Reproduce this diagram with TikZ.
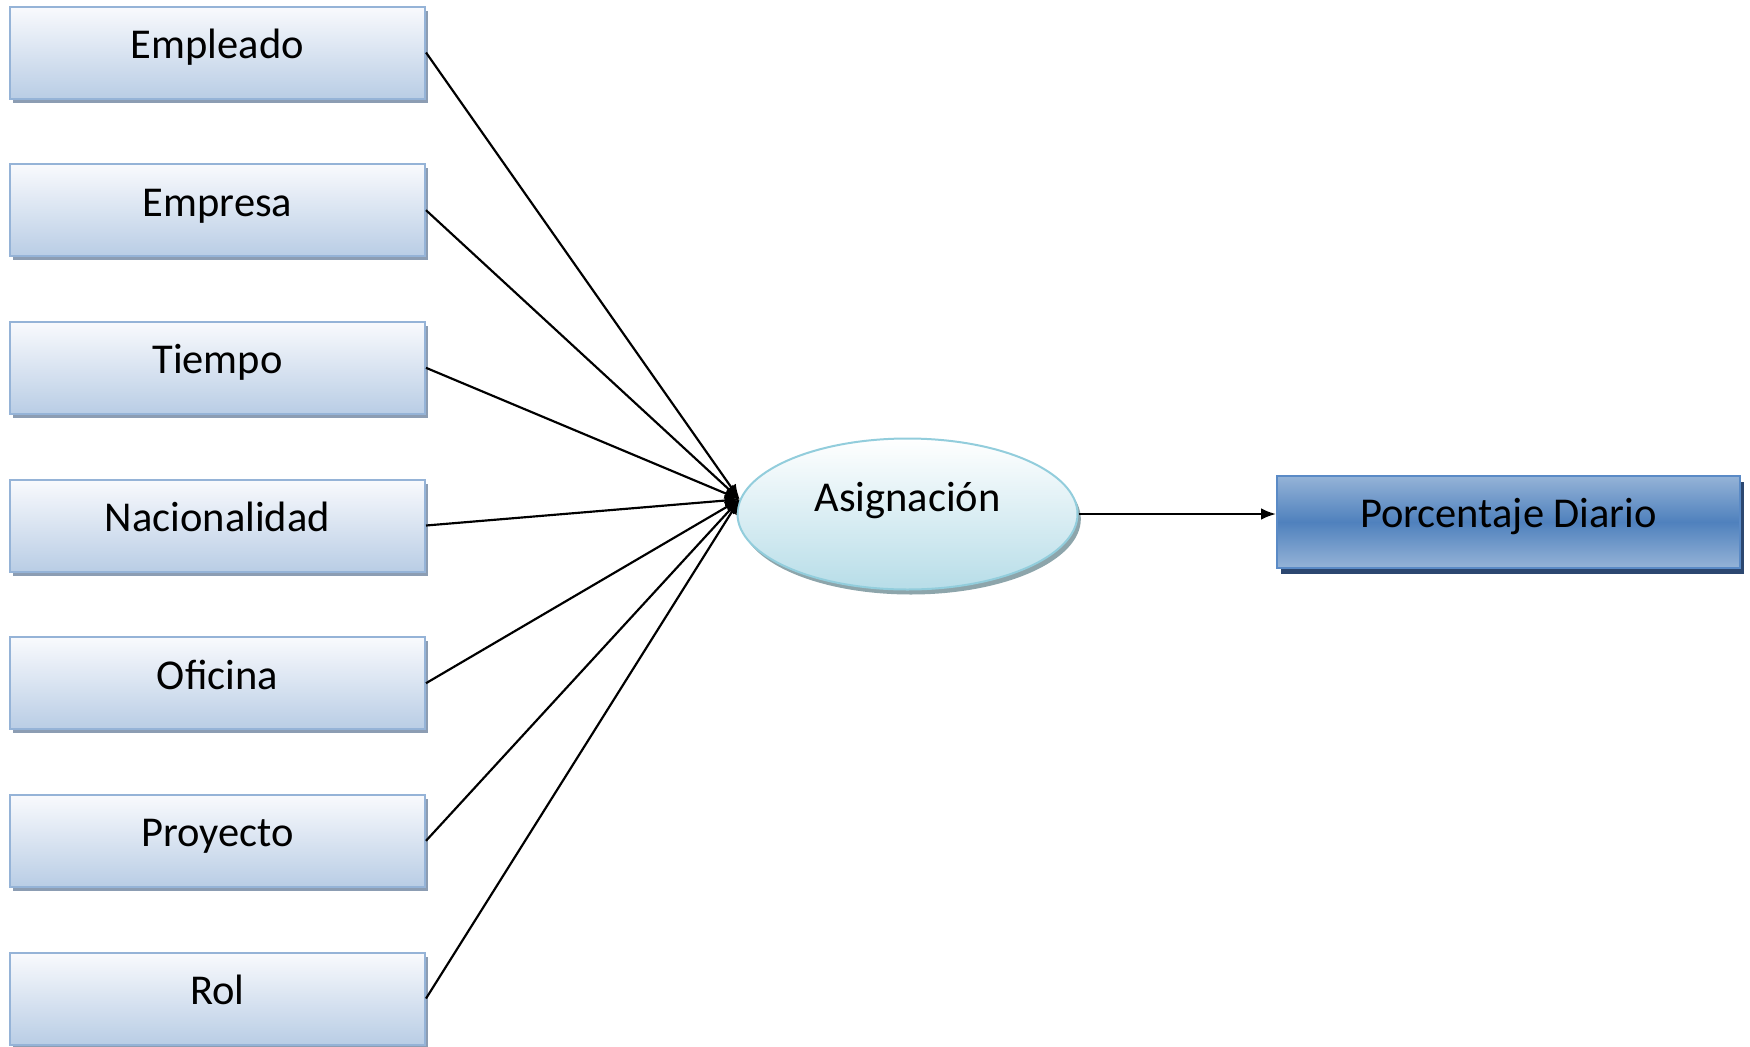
\documentclass[tikz,border=0pt]{standalone}
\usepackage{fontspec}
\setmainfont{Carlito}
\usetikzlibrary{arrows.meta,shadows,shapes.geometric}
\definecolor{boxtop}{HTML}{F9FAFD}
\definecolor{boxbot}{HTML}{B9CDE5}
\definecolor{boxline}{HTML}{95B3D7}
\definecolor{boxshadow}{HTML}{8C9DB3}
\definecolor{elltop}{HTML}{FFFFFF}
\definecolor{ellbot}{HTML}{B7DDE8}
\definecolor{ellline}{HTML}{92CDDC}
\definecolor{ellshadow}{HTML}{8DA5AB}
\definecolor{pdlight}{HTML}{95B3D7}
\definecolor{pddark}{HTML}{4F81BD}
\definecolor{pdline}{HTML}{5A8AC6}
\definecolor{pdshadow}{HTML}{2C4770}
\tikzset{
  dimbox/.style={rectangle, inner sep=0pt, minimum width=249pt, minimum height=55.2pt,
    top color=boxtop, bottom color=boxbot, draw=boxline, line width=1.2pt,
    drop shadow={shadow xshift=2pt, shadow yshift=-2.4pt, fill=boxshadow, opacity=1},
    font=\fontsize{25.5}{30}\selectfont, text height=17pt, text depth=10pt},
  factbox/.style={ellipse, inner sep=0pt, minimum width=204pt, minimum height=90.6pt,
    top color=elltop, bottom color=ellbot, draw=ellline, line width=1.2pt,
    drop shadow={shadow xshift=2pt, shadow yshift=-3pt, fill=ellshadow, opacity=1},
    font=\fontsize{25.5}{30}\selectfont, text height=12.5pt, text depth=16pt},
  measbox/.style={rectangle, inner sep=0pt, minimum width=277.8pt, minimum height=55.2pt,
    top color=pdlight, bottom color=pdlight, middle color=pddark, draw=pdline, line width=1.2pt,
    drop shadow={shadow xshift=2.4pt, shadow yshift=-3.6pt, fill=pdshadow, opacity=1},
    font=\fontsize{25.5}{30}\selectfont, text height=17pt, text depth=10.2pt},
  link/.style={line width=1.3pt, -{Latex[length=9pt,width=7pt]}}
}
\begin{document}
\begin{tikzpicture}[x=0.6pt,y=-0.6pt]
\useasboundingbox (0,0) rectangle (1750,1047);
\node[dimbox] (emp)  at (217.5,52.5)  {Empleado};
\node[dimbox] (empr) at (217.5,210.2) {Empresa};
\node[dimbox] (tie)  at (217.5,367.8) {Tiempo};
\node[dimbox] (nac)  at (217.5,525.5) {Nacionalidad};
\node[dimbox] (ofi)  at (217.5,683.2) {Oficina};
\node[dimbox] (pro)  at (217.5,840.8) {Proyecto};
\node[dimbox] (rol)  at (217.5,998.5) {Rol};
\node[factbox] (asig) at (907.5,514) {Asignación};
\node[measbox] (pd) at (1508.5,522) {Porcentaje Diario};
\foreach \n in {emp,empr,tie,nac,ofi,pro,rol}
  \draw[link] (\n.east) -- (asig.175);
\draw[link] (asig.east) -- (pd.west |- asig.east);
\end{tikzpicture}
\end{document}
